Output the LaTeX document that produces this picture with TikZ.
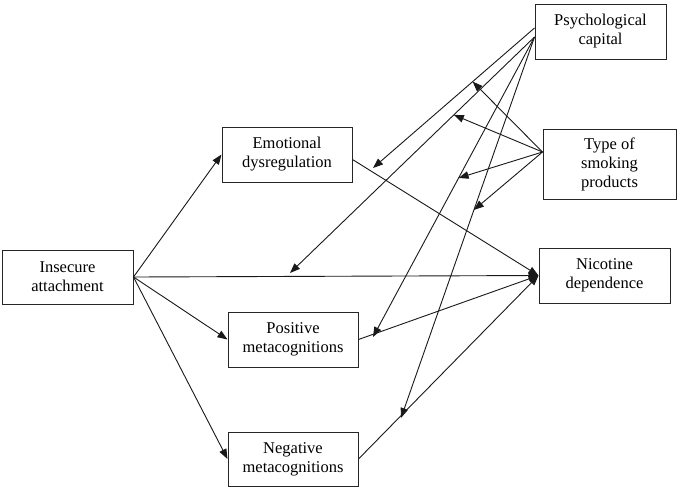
\documentclass[tikz,border=0pt]{standalone}
\usepackage{fontspec}
\setmainfont{Liberation Serif}
\usetikzlibrary{arrows.meta}
\begin{document}
\begin{tikzpicture}[x=1pt,y=-1pt,
  box/.style={draw=black!85, line width=1pt, align=center, inner sep=0pt,
    text=black, font=\fontsize{16.5}{19}\selectfont},
  arr/.style={draw=black!90, line width=0.9pt, -{Triangle[length=10pt,width=7.5pt]}}]
\useasboundingbox (0,0) rectangle (685,499);
\fill[white] (0,0) rectangle (685,499);
% nodes
\node[box, minimum width=131pt, minimum height=54pt] (IA) at (67.5,277) {Insecure\\attachment};
\node[box, minimum width=130pt, minimum height=55pt] (ED) at (287,154.5) {Emotional\\dysregulation};
\node[box, minimum width=130pt, minimum height=55pt] (PM) at (293,339.5) {Positive\\metacognitions};
\node[box, minimum width=130pt, minimum height=54pt] (NM) at (293,459) {Negative\\metacognitions};
\node[box, minimum width=131pt, minimum height=55pt] (PC) at (600.5,31.5) {Psychological\\capital};
\node[box, minimum width=133pt, minimum height=70pt] (TS) at (609.5,164) {Type of\\smoking\\products};
\node[box, minimum width=131pt, minimum height=55pt] (ND) at (604.5,275.5) {Nicotine\\dependence};
% anchor points
\coordinate (pa) at ([yshift=3.5pt]PC.west);
\coordinate (pb) at ([yshift=-5.5pt]PC.west);
\coordinate (ts) at ([yshift=12pt]TS.west);
\coordinate (ede) at ([yshift=-5pt]ED.east);
% tips of moderation arrows on the paths
\coordinate (t1) at (373,168);
\coordinate (t2) at (290,273);
\coordinate (t3) at (373,337);
\coordinate (t4) at (401,418);
\path (pa) -- (t1) coordinate[pos=0.383] (u1);
\path (pb) -- (t2) coordinate[pos=0.33] (u2);
\path (pb) -- (t3) coordinate[pos=0.47] (u3);
\path (pb) -- (t4) coordinate[pos=0.454] (u4);
% main paths
\draw[arr] (IA.east) -- (ED.west);
\draw[arr] (IA.east) -- (ND.west);
\draw[arr] (IA.east) -- (PM.west);
\draw[arr] (IA.east) -- (NM.west);
\draw[arr] (ede) -- (ND.west);
\draw[arr] (PM.east) -- (ND.west);
\draw[arr] (NM.east) -- (ND.west);
% psychological capital moderation
\draw[arr] (pa) -- (t1);
\draw[arr] (pb) -- (t2);
\draw[arr] (pb) -- (t3);
\draw[arr] (pb) -- (t4);
% type of smoking products
\draw[arr] (ts) -- (u1);
\draw[arr] (ts) -- (u2);
\draw[arr] (ts) -- (u3);
\draw[arr] (ts) -- (u4);
\end{tikzpicture}
\end{document}
